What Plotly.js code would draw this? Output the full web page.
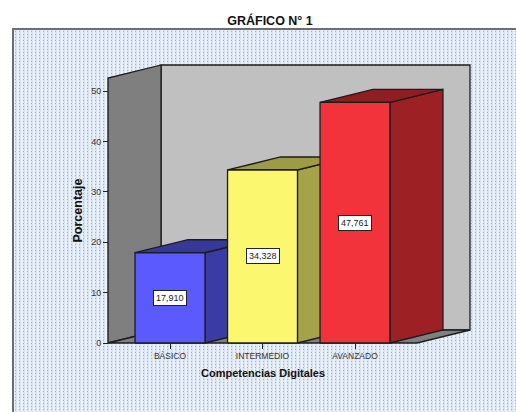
<!DOCTYPE html>
<html>
<head>
<meta charset="utf-8">
<script src="https://cdn.plot.ly/plotly-3.0.1.min.js"></script>
<style>
html,body{margin:0;padding:0;background:#fff;width:516px;height:412px;overflow:hidden}
#panel{position:absolute;left:12px;top:28px;width:504px;height:384px;box-sizing:border-box;border-left:2px solid #6e6e6e;border-top:2px solid #6e6e6e;
background-color:#e9f1fb;
background-image:url("data:image/svg+xml;utf8,<svg xmlns='http://www.w3.org/2000/svg' width='4' height='3'><rect x='1' y='0' width='2' height='3' fill='%23d8e2f0'/><rect x='1' y='1' width='1' height='1' fill='%23a0b0c6'/></svg>");}
#chart{position:absolute;left:0;top:0;width:516px;height:412px}
</style>
</head>
<body>
<div id="panel"></div>
<div id="chart"></div>
<script>
const categories = ["BÁSICO", "INTERMEDIO", "AVANZADO"];
const values = [17.910, 34.328, 47.761];
const frontColors = ["#5a5aff", "#fbf870", "#f2333b"];
const sideColors = ["#3b3ba6", "#a5a349", "#9c2024"];
const topColors = ["#383899", "#9d9b45", "#8f1e22"];
const yTicks = [0, 10, 20, 30, 40, 50];

const wallLeft = -0.670, wallRight = 2.670, wallTop = 52.58;
const depthX = 0.573, depthY = 2.58, halfBar = 0.378;
const edge = "#1c1c1c";

// plot area in window pixels (a little larger than the box, so that edge lines are not clipped)
const L = 106, R = 472, T = 63, B = 345;
const pxX = p => (p - L) / (R - L), pxY = p => (B - p) / (B - T);

function face(xs, ys, color, name) {
  return {
    type: "scatter", mode: "lines", x: xs.concat(xs[0]), y: ys.concat(ys[0]),
    fill: "toself", fillcolor: color,
    line: {color: edge, width: 1.3},
    hoverinfo: "skip", showlegend: false, name: name
  };
}

const traces = [
  face([wallLeft + depthX, wallRight + depthX, wallRight + depthX, wallLeft + depthX],
       [depthY, depthY, wallTop + depthY, wallTop + depthY], "#c0c0c0", "pared"),
  face([wallLeft, wallLeft + depthX, wallLeft + depthX, wallLeft],
       [0, depthY, wallTop + depthY, wallTop], "#7f7f7f", "lateral"),
  face([wallLeft, wallRight, wallRight + depthX, wallLeft + depthX],
       [0, 0, depthY, depthY], "#808080", "suelo")
];

categories.forEach((c, i) => {
  const l = i - halfBar, r = i + halfBar, v = values[i];
  traces.push(face([r, r + depthX, r + depthX, r], [0, depthY, v + depthY, v], sideColors[i], c + " lado"));
  traces.push(face([l, l + depthX, r + depthX, r], [v, v + depthY, v + depthY, v], topColors[i], c + " tope"));
  traces.push(face([l, r, r, l], [0, 0, v, v], frontColors[i], c));
});

const labels = values.map((v, i) => ({
  x: i, y: v / 2, xref: "x", yref: "y", showarrow: false,
  text: v.toFixed(3).replace(".", ","),
  font: {family: "Liberation Sans, Arial, sans-serif", size: 9, color: "#1a1a1a"},
  bgcolor: "#ffffff", bordercolor: "#222222", borderwidth: 1, borderpad: 2
}));

const titles = [
  {text: "<b>Competencias Digitales</b>", xref: "paper", yref: "paper", x: pxX(263), y: pxY(373),
   xanchor: "center", yanchor: "middle", showarrow: false, font: {size: 11, color: "#111"}},
  {text: "<b>Porcentaje</b>", xref: "paper", yref: "paper", x: pxX(77.5), y: pxY(211), textangle: -90,
   xanchor: "center", yanchor: "middle", showarrow: false, font: {size: 12.5, color: "#111"}}
];

const layout = {
  width: 516, height: 412,
  margin: {l: L, r: 516 - R, t: T, b: 412 - B},
  paper_bgcolor: "rgba(0,0,0,0)", plot_bgcolor: "rgba(0,0,0,0)",
  font: {family: "Liberation Sans, Arial, sans-serif", color: "#333333"},
  showlegend: false,
  title: {text: "<b>GRÁFICO N° 1</b>", font: {size: 12.5, color: "#111111"}, xref: "container", x: 270 / 516, xanchor: "center", yref: "container", y: 0.95, yanchor: "middle"},
  xaxis: {
    range: [(L - 170) / 92.5, (R - 170) / 92.5], tickvals: categories.map((c, i) => i), ticktext: categories,
    anchor: "free", position: pxY(343),
    ticks: "outside", ticklen: 5, tickwidth: 1, tickcolor: "#222", showgrid: false, zeroline: false, showline: false,
    tickfont: {size: 8.5, color: "#333"}
  },
  yaxis: {
    range: [(343 - B) / 5.04, (343 - T) / 5.04], tickvals: yTicks,
    anchor: "free", position: pxX(108),
    ticks: "outside", ticklen: 5, tickwidth: 1, tickcolor: "#222", showgrid: false, zeroline: false, showline: false,
    tickfont: {size: 9, color: "#333"}
  },
  annotations: labels.concat(titles)
};

Plotly.newPlot("chart", traces, layout, {displayModeBar: false, staticPlot: true});
</script>
</body>
</html>
